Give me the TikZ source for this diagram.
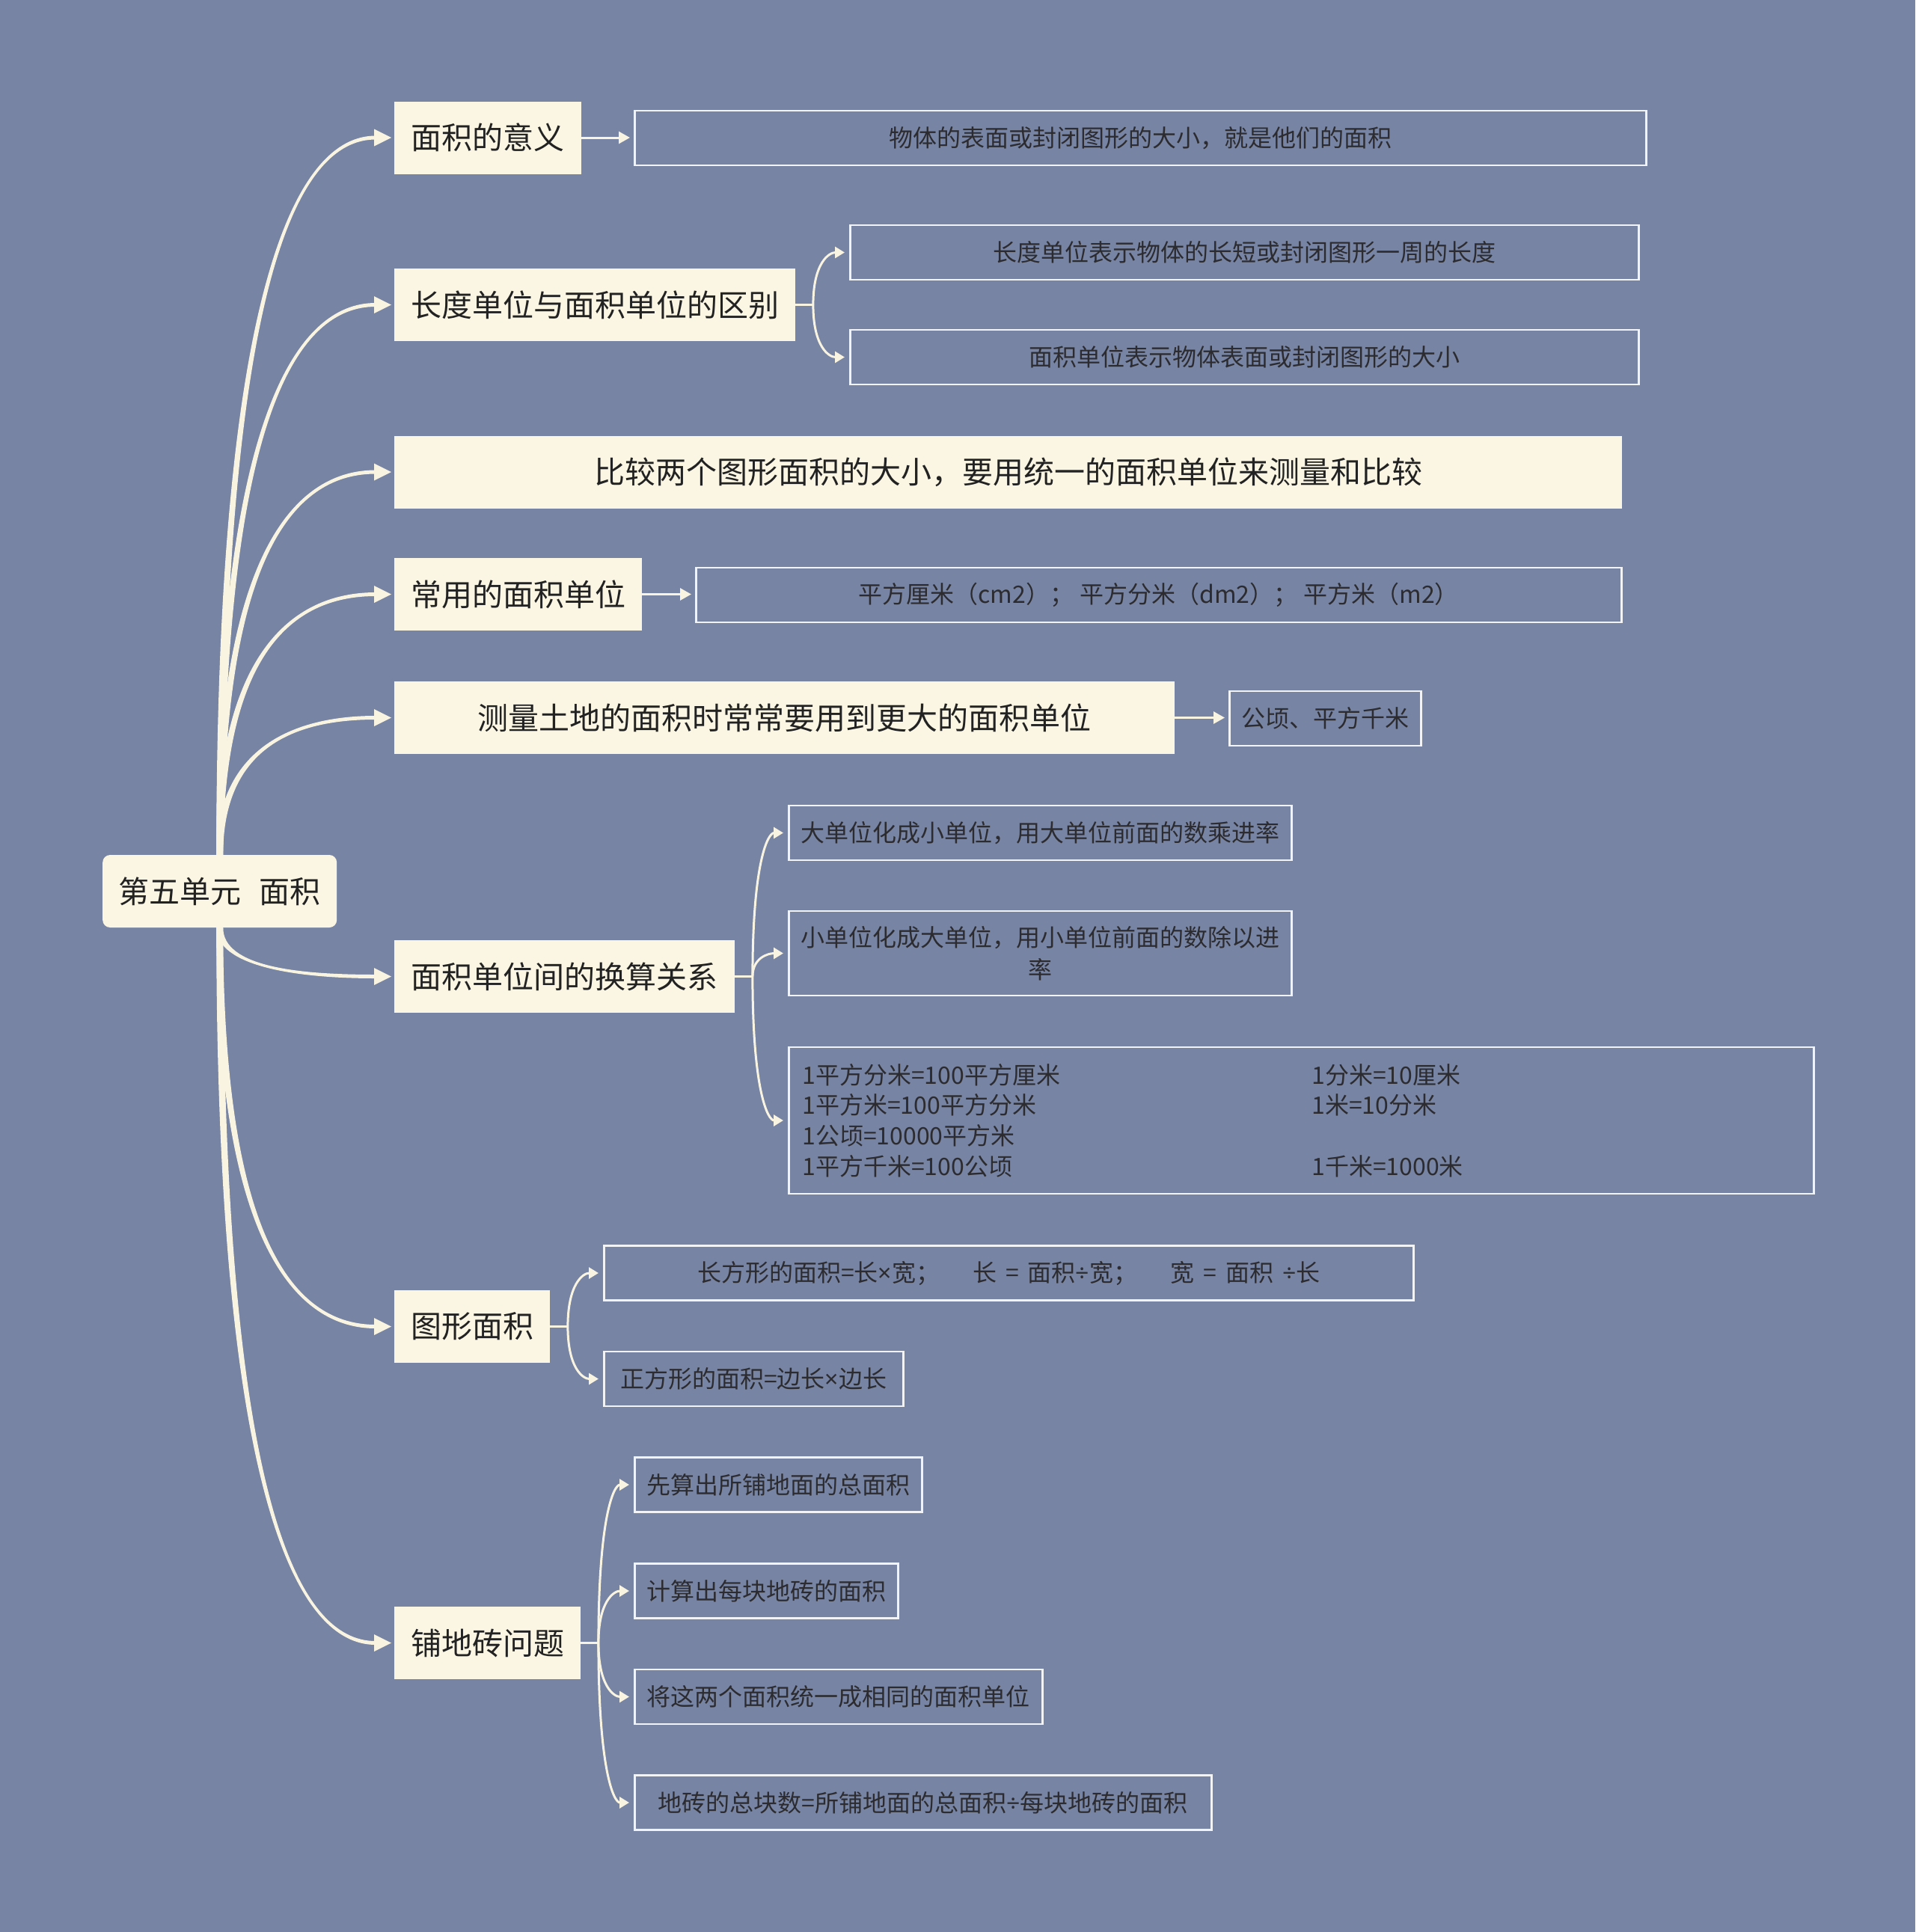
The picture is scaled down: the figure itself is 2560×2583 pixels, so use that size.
\documentclass[tikz,border=0pt]{standalone}
\usepackage{fontspec}
\setmainfont{Noto Sans CJK SC}
\newfontfamily\latinf{Noto Sans}
\newcommand\mtimes{{\latinf ×}}
\newcommand\mdiv{{\latinf ÷}}
\usetikzlibrary{calc,arrows.meta}
\definecolor{bg}{RGB}{119,132,163}
\definecolor{cream}{RGB}{250,246,227}
\definecolor{linec}{RGB}{248,244,225}
\definecolor{boxline}{RGB}{242,243,246}
\definecolor{tdark}{RGB}{34,34,34}
\definecolor{tbox}{RGB}{44,44,48}

% tapered branch from the root: #1 root anchor, #2 target, #3 outer sign, #4 inner sign
\newcommand\rbranch[4]{%
  \fill[linec] let \p1=(root.#1), \p2=($(#2.west)+(-25pt,0pt)$) in
    ({\x1-4.5pt},{\y1}) .. controls ({\x1-4.5pt},{\y1+0.8*(\y2-\y1)}) and ({0.5*(\x1+\x2)},{\y2 #3 2.5pt}) .. ({\x2},{\y2 #3 2.5pt})
    -- ({\x2},{\y2 #4 2.5pt}) .. controls ({0.5*(\x1+\x2)},{\y2 #4 2.5pt}) and ({\x1+4.5pt},{\y1+0.8*(\y2-\y1)}) .. ({\x1+4.5pt},{\y1}) -- cycle;
  \fill[linec] ($(#2.west)+(-4pt,0pt)$) -- ($(#2.west)+(-27pt,11.5pt)$) -- ($(#2.west)+(-27pt,-11.5pt)$) -- cycle;
}
% bracket branch from a junction right of #1 to child #2
\newcommand\cbranch[2]{%
  \draw[cline,-{Triangle[length=13pt,width=15pt]}] let \p1=($(#1.east)+(23.5pt,0pt)$), \p2=($(#2.west)+(-6pt,0pt)$) in
    (\p1) .. controls ({\x1},{\y1+0.8*(\y2-\y1)}) and ({0.5*(\x1+\x2)},{\y2}) .. (\p2);
}
\newcommand\cstem[1]{\draw[cline] (#1.east) -- ($(#1.east)+(25pt,0pt)$);}
\newcommand\cstraight[2]{\draw[cline,-{Triangle[length=15pt,width=16pt]}] (#1.east) -- ($(#1.east -| #2.west)+(-5pt,0pt)$);}

\begin{document}
\begin{tikzpicture}[x=1pt,y=-1pt,
  rootbox/.style={fill=cream, text=tdark, rounded corners=10pt, inner sep=0pt, minimum width=313pt, minimum height=97pt, font=\fontsize{41}{49}\selectfont, anchor=west},
  lone/.style={fill=cream, text=tdark, inner sep=0pt, minimum height=97pt, font=\fontsize{41}{49}\selectfont, anchor=west},
  ltwo/.style={draw=boxline, line width=2.5pt, text=tbox, inner sep=0pt, minimum height=73pt, font=\fontsize{32}{43}\selectfont, anchor=west, align=center},
  cline/.style={draw=linec, line width=3pt}]

\fill[bg] (0,0) rectangle (2560,2583);

% root
\node[rootbox] (root) at (137,1191.5) {第五单元\hspace{24pt}面积};

% level 1
\node[lone, minimum width=250pt]  (n1) at (527,184) {面积的意义};
\node[lone, minimum width=536pt]  (n2) at (527,407.5) {长度单位与面积单位的区别};
\node[lone, minimum width=1641pt] (n3) at (527,631) {比较两个图形面积的大小，要用统一的面积单位来测量和比较};
\node[lone, minimum width=331pt]  (n4) at (527,794.5) {常用的面积单位};
\node[lone, minimum width=1043pt] (n5) at (527,959.5) {测量土地的面积时常常要用到更大的面积单位};
\node[lone, minimum width=455pt]  (n6) at (527,1305.5) {面积单位间的换算关系};
\node[lone, minimum width=208pt]  (n7) at (527,1773.5) {图形面积};
\node[lone, minimum width=249pt]  (n8) at (527,2196.5) {铺地砖问题};

% level 2
\node[ltwo, minimum width=1352pt] (a)  at (847,184.5) {物体的表面或封闭图形的大小，就是他们的面积};
\node[ltwo, minimum width=1054pt] (b1) at (1135,337.5) {长度单位表示物体的长短或封闭图形一周的长度};
\node[ltwo, minimum width=1054pt] (b2) at (1135,477.5) {面积单位表示物体表面或封闭图形的大小};
\node[ltwo, minimum width=1237pt] (d)  at (929,795.5) {平方厘米（cm2）；\hspace{8pt}平方分米（dm2）；\hspace{8pt}平方米（m2）};
\node[ltwo, minimum width=256pt]  (e)  at (1642,960.5) {公顷、平方千米};
\node[ltwo, minimum width=672pt]  (f1) at (1053,1113.5) {大单位化成小单位，用大单位前面的数乘进率};
\node[ltwo, minimum width=672pt, minimum height=113pt] (f2) at (1053,1274.5) {小单位化成大单位，用小单位前面的数除以进\\率};
\node[ltwo, minimum width=1370pt, minimum height=196pt, text width=1334pt, align=left, font=\fontsize{32}{40.7}\selectfont] (f3) at (1053,1498)
  {\makebox[681pt][l]{1平方分米=100平方厘米}1分米=10厘米\\
   \makebox[681pt][l]{1平方米=100平方分米}1米=10分米\\
   1公顷=10000平方米\\
   \makebox[681pt][l]{1平方千米=100公顷}1千米=1000米};
\node[ltwo, minimum width=1082pt] (g1) at (806,1702) {长方形的面积=长\mtimes 宽；\hspace{44pt}长\hspace{12pt}=\hspace{12pt}面积\mdiv 宽；\hspace{44pt}宽\hspace{12pt}=\hspace{12pt}面积\hspace{12pt}\mdiv 长};
\node[ltwo, minimum width=400pt]  (g2) at (806,1843.5) {正方形的面积=边长\mtimes 边长};
\node[ltwo, minimum width=384pt]  (h1) at (847,1985) {先算出所铺地面的总面积};
\node[ltwo, minimum width=352pt]  (h2) at (847,2127) {计算出每块地砖的面积};
\node[ltwo, minimum width=545pt]  (h3) at (847,2268.5) {将这两个面积统一成相同的面积单位};
\node[ltwo, minimum width=771pt]  (h4) at (847,2410) {地砖的总块数=所铺地面的总面积\mdiv 每块地砖的面积};

% root branches
\rbranch{north}{n1}{+}{-}
\rbranch{north}{n2}{+}{-}
\rbranch{north}{n3}{+}{-}
\rbranch{north}{n4}{+}{-}
\rbranch{north}{n5}{+}{-}
\rbranch{south}{n6}{-}{+}
\rbranch{south}{n7}{-}{+}
\rbranch{south}{n8}{-}{+}

% level 2 connectors
\cstraight{n1}{a}
\cstraight{n4}{d}
\cstraight{n5}{e}
\cstem{n2}\cbranch{n2}{b1}\cbranch{n2}{b2}
\cstem{n6}\cbranch{n6}{f1}\cbranch{n6}{f2}\cbranch{n6}{f3}
\cstem{n7}\cbranch{n7}{g1}\cbranch{n7}{g2}
\cstem{n8}\cbranch{n8}{h1}\cbranch{n8}{h2}\cbranch{n8}{h3}\cbranch{n8}{h4}
\end{tikzpicture}
\end{document}
